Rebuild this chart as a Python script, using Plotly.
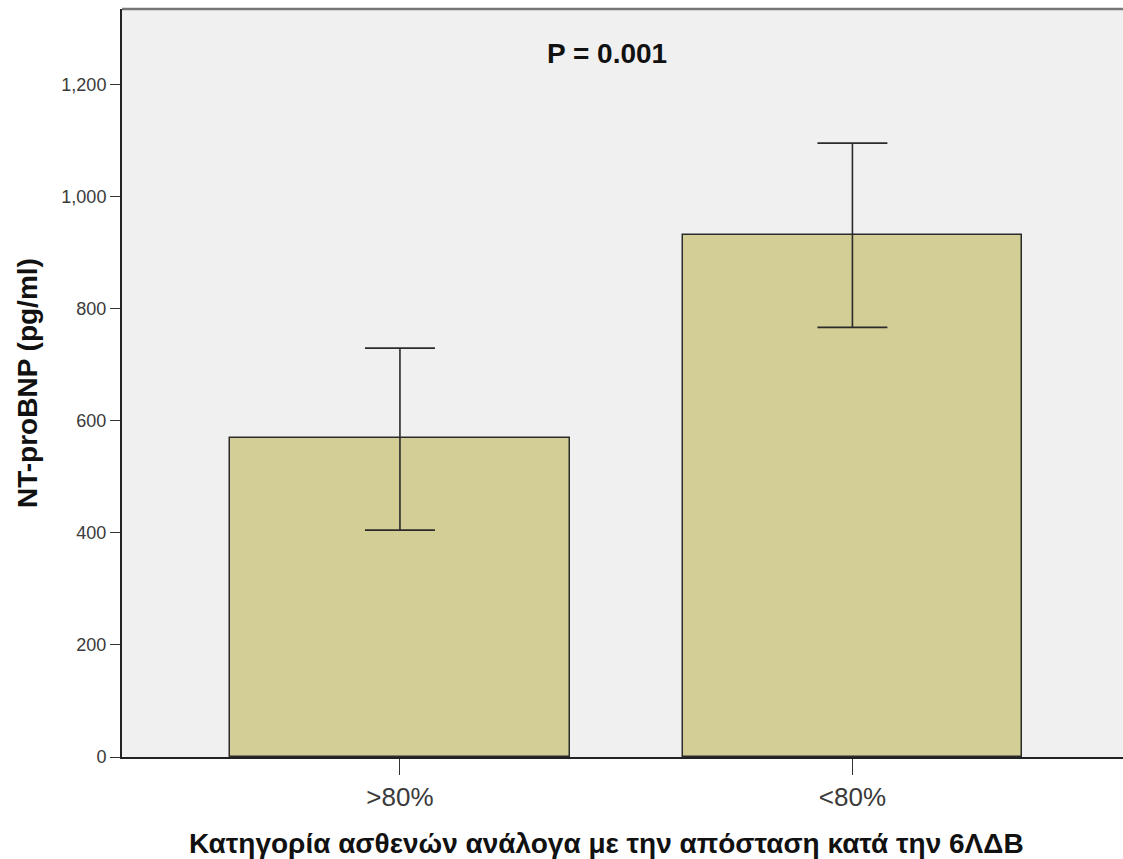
import plotly.graph_objects as go

# Group labels and NT-proBNP means with 95% CI bounds
categories = [">80%", "<80%"]
means = [569, 932]
ci_upper = [730, 1096]
ci_lower = [405, 767]

err_plus = [u - m for u, m in zip(ci_upper, means)]
err_minus = [m - l for m, l in zip(means, ci_lower)]

FONT = "Arial, 'Liberation Sans', sans-serif"

fig = go.Figure()
fig.add_trace(go.Bar(
    x=[0, 1],
    y=means,
    width=0.75,
    marker=dict(color="#D3CE95", line=dict(color="#2b2b2b", width=1.5)),
    error_y=dict(type="data", symmetric=False, array=err_plus, arrayminus=err_minus,
                 color="#2b2b2b", thickness=1.6, width=35),
    showlegend=False,
))

fig.update_layout(
    width=1123, height=859,
    margin=dict(l=122, r=0, t=9, b=102),
    paper_bgcolor="white",
    plot_bgcolor="#F0F0F0",
    font=dict(family=FONT, color="#222222"),
    bargap=0,
    xaxis=dict(
        range=[-0.6143, 1.598],
        tickvals=[0, 1], ticktext=categories,
        ticks="outside", ticklen=16, tickwidth=1.3, tickcolor="#333333",
        tickfont=dict(size=26, color="#3a3a3a"),
        showline=True, linecolor="#222222", linewidth=2,
        showgrid=False, zeroline=False,
    ),
    yaxis=dict(
        range=[0, 1335.5],
        tickvals=[0, 200, 400, 600, 800, 1000, 1200],
        tickformat=",d",
        ticks="outside", ticklen=10, tickwidth=1.3, tickcolor="#333333",
        tickfont=dict(size=18, color="#3a3a3a"),
        showline=True, linecolor="#222222", linewidth=2,
        showgrid=False, zeroline=False,
    ),
    shapes=[dict(type="line", xref="paper", yref="paper", x0=0, x1=1, y0=1, y1=1,
                 line=dict(color="#777777", width=2.5))],
    annotations=[
        dict(text="<b>P = 0.001</b>", x=0.4845, y=0.941, xref="paper", yref="paper",
             xanchor="center", yanchor="middle",
             showarrow=False, font=dict(size=28, color="#111111")),
        dict(text="<b>Κατηγορία ασθενών ανάλογα με την απόσταση κατά την 6ΛΔΒ</b>",
             x=0.4845, y=-0.115, xref="paper", yref="paper",
             xanchor="center", yanchor="middle", showarrow=False,
             font=dict(size=28, color="#111111")),
        dict(text="<b>NT-proBNP (pg/ml)</b>", textangle=-90,
             x=-0.0949, y=0.5, xref="paper", yref="paper",
             xanchor="center", yanchor="middle", showarrow=False,
             font=dict(size=28, color="#111111")),
    ],
)

fig.write_html("out.html")
